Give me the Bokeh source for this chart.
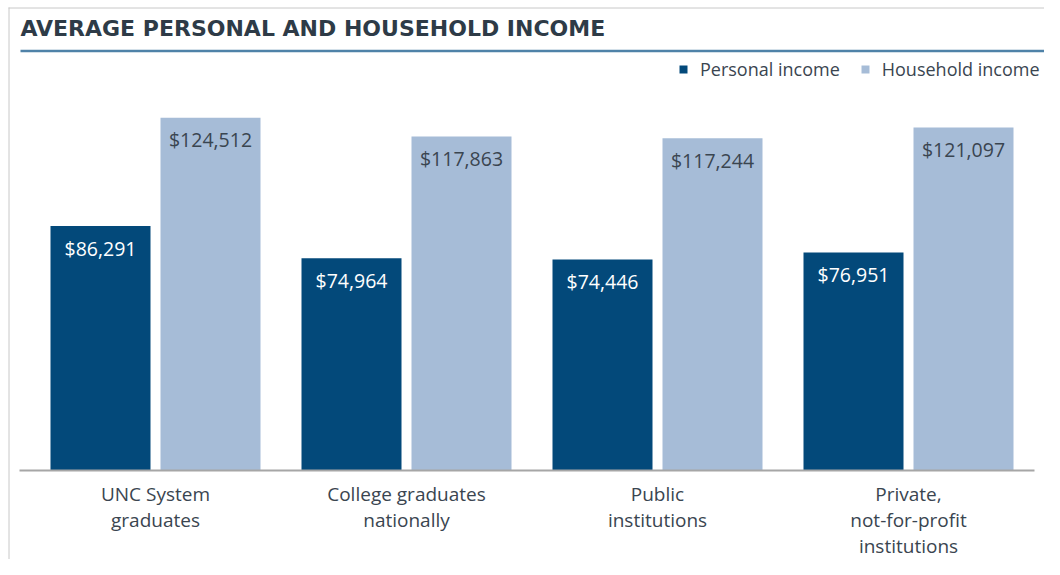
from bokeh.plotting import figure
from bokeh.models import ColumnDataSource, Range1d, Legend, LegendItem
from bokeh.transform import dodge
from bokeh.core.properties import value
from bokeh.embed import file_html
from bokeh.resources import INLINE

# ---- data ----
categories = ["UNC System\ngraduates", "College graduates\nnationally",
              "Public\ninstitutions", "Private,\nnot-for-profit\ninstitutions"]
personal = [86291, 74964, 74446, 76951]
household = [124512, 117863, 117244, 121097]
series_names = ["Personal income", "Household income"]
title_text = "AVERAGE PERSONAL AND HOUSEHOLD INCOME"

DARK = "#03497a"
LIGHT = "#a6bcd7"
TEXT = "#3a4550"

W, H = 1044, 559
K = 0.002833          # px per dollar
BASE = 470            # baseline y (px from top)
GAP = 251             # px per category
C0 = 155              # first category centre x


def px_x(px):
    return (px - C0) / GAP


def px_y(py):
    return (BASE - py) / K


idx = list(range(len(categories)))
src = ColumnDataSource(dict(
    idx=idx, cat=categories, personal=personal, household=household,
    plab=["${:,}".format(v) for v in personal],
    hlab=["${:,}".format(v) for v in household],
    zero=[0] * len(idx),
))

p = figure(width=W, height=H, output_backend="svg", toolbar_location=None,
           x_range=Range1d(px_x(0), px_x(W)),
           y_range=Range1d(px_y(H), px_y(0)),
           min_border=0, min_border_left=0, min_border_right=0,
           min_border_top=0, min_border_bottom=0)
p.axis.visible = False
p.grid.visible = False
p.outline_line_color = None
p.background_fill_color = "white"
p.border_fill_color = "white"

off = 55 / GAP
bw = 100 / GAP
r1 = p.vbar(x=dodge("idx", -off, range=p.x_range), top="personal", width=bw,
            source=src, fill_color=DARK, line_color=None)
r2 = p.vbar(x=dodge("idx", off, range=p.x_range), top="household", width=bw,
            source=src, fill_color=LIGHT, line_color=None)

# value labels inside bars
p.text(x=dodge("idx", -off, range=p.x_range), y="personal", text="plab", source=src,
       text_align="center", text_baseline="alphabetic", y_offset=22,
       text_font=value("Open Sans"), text_font_size="19.5px", text_color="white")
p.text(x=dodge("idx", off, range=p.x_range), y="household", text="hlab", source=src,
       text_align="center", text_baseline="alphabetic", y_offset=22,
       text_font=value("Open Sans"), text_font_size="19.5px", text_color=TEXT)

# baseline
p.segment(x0=[px_x(19)], y0=[0], x1=[px_x(1034)], y1=[0],
          line_color="#a6a6a6", line_width=2)

# category labels
p.text(x="idx", y="zero", text="cat", source=src, text_align="center",
       text_baseline="top", y_offset=10, text_line_height=1.0,
       text_font=value("Open Sans"), text_font_size="19px", text_color=TEXT)

# title and rule
p.text(x=[px_x(20)], y=[px_y(27.5)], text=[title_text],
       text_align="left", text_baseline="alphabetic",
       text_font=value("DejaVu Sans"), text_font_style="bold",
       text_font_size="22px", text_color="#2e3b47")
p.segment(x0=[px_x(20)], y0=[px_y(50.5)], x1=[px_x(W + 10)], y1=[px_y(50.5)],
          line_color="#4f82a8", line_width=2.5)

# box border (left and top)
p.segment(x0=[px_x(8.5), px_x(8)], y0=[px_y(7), px_y(7.5)],
          x1=[px_x(8.5), px_x(W + 10)], y1=[px_y(H + 10), px_y(7.5)],
          line_color="#c8c8c8", line_width=1)

legend = Legend(items=[LegendItem(label=series_names[0], renderers=[r1]),
                       LegendItem(label=series_names[1], renderers=[r2])],
                orientation="horizontal", location=(678, 478),
                glyph_width=10, glyph_height=10, label_standoff=12, spacing=20,
                padding=0, margin=0, border_line_color=None,
                background_fill_alpha=0,
                label_text_font="Open Sans", label_text_font_size="18px",
                label_text_color=TEXT)
p.add_layout(legend)

open("out.html", "w").write(file_html(p, INLINE))
